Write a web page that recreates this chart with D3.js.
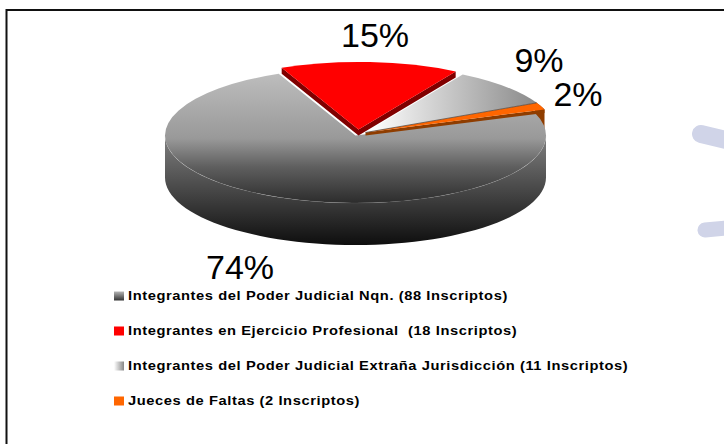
<!DOCTYPE html>
<html><head><meta charset="utf-8">
<script src="https://cdn.jsdelivr.net/npm/d3@7"></script>
<style>html,body{margin:0;padding:0;background:#fff}svg{display:block}</style>
</head><body><svg id="c" width="724" height="444"></svg>
<script>
const categories=["Integrantes del Poder Judicial Nqn. (88 Inscriptos)","Integrantes en Ejercicio Profesional  (18 Inscriptos)","Integrantes del Poder Judicial Extraña Jurisdicción (11 Inscriptos)","Jueces de Faltas (2 Inscriptos)"];
const values=[88,18,11,2];
const percentLabels=["74%","15%","9%","2%"];
const cx=355.5,cy=135.5,rx=190.5,ry=67.5,depth=42;
const svg=d3.select("#c");
const defs=svg.append("defs");
function grad(id,x1,y1,x2,y2,stops){
  const g=defs.append("linearGradient").attr("id",id)
   .attr("x1",x1).attr("y1",y1).attr("x2",x2).attr("y2",y2);
  stops.forEach(s=>g.append("stop").attr("offset",s[0]).attr("stop-color",s[1]));
}
grad("gTop",0,0,0,1,[[0,"#bdbdbd"],[0.5,"#999"],[0.72,"#5f5f5f"],[1,"#2c2c2c"]]);
grad("gWall",0,0,0,1,[[0,"#808080"],[0.5,"#474747"],[1,"#0e0e0e"]]);
grad("gWhite",0.02,0,1,0,[[0,"#ffffff"],[1,"#8a8a8a"]]);
grad("lGray",0,0,0,1,[[0,"#b5b5b5"],[1,"#333"]]);
grad("lWhite",0,0,1,0,[[0,"#fff"],[1,"#888"]]);

const TAU=2*Math.PI, deg=Math.PI/180;
const pie=d3.pie().sort(null).startAngle(70*deg).endAngle(70*deg+TAU)(values);
const arc=d3.arc().innerRadius(0).outerRadius(rx);
const x=a=>rx*Math.sin(a), y=a=>-ry*Math.cos(a);
const line=d3.line();
const off=[[0,0],[3,-6],[10,-3],[10,-3]];
const topFill=["url(#gTop)","#ff0000","url(#gWhite)","#ff6600"];

function wall(a0,a1,ox,oy,dp,fill){
  const n=60, pts=d3.range(n+1).map(i=>{const a=a0+(a1-a0)*i/n;return [cx+ox+x(a),cy+oy+y(a)];});
  const low=pts.map(p=>[p[0],p[1]+dp]).reverse();
  svg.append("path").attr("d",line(pts.concat(low))+"Z").attr("fill",fill);
}
function face(i){
  svg.append("path").attr("d",arc(pie[i]))
    .attr("transform",`translate(${cx+off[i][0]},${cy+off[i][1]}) scale(1,${ry/rx})`)
    .attr("fill",topFill[i]);
}
// outer walls
wall(Math.PI/2,Math.PI*1.5,0,0,depth,"url(#gWall)");
wall(pie[3].startAngle-0.02,pie[3].endAngle,off[3][0],off[3][1],24,"#8f3d00");
// main top face and rim
face(0);
svg.append("path").attr("d",line(d3.range(61).map(i=>{const a=Math.PI/2+Math.PI*i/60;return [cx+x(a),cy+y(a)];})))
  .attr("fill","none").attr("stroke","#b8b8b8").attr("stroke-opacity",0.14).attr("stroke-width",0.8);
// white slice
face(2);
// radial side of the orange slice
const O=off[3], oa=pie[3].endAngle, apexO=[cx+O[0],cy+O[1]], edgeO=[apexO[0]+x(oa),apexO[1]+y(oa)];
svg.append("path").attr("d",line([apexO,edgeO,[edgeO[0],edgeO[1]+3.5],[apexO[0],apexO[1]+3]])+"Z").attr("fill","#8f3d00");
face(3);
// seam between white and orange
const sa=pie[3].startAngle;
svg.append("path").attr("d",line([apexO,[apexO[0]+x(sa),apexO[1]+y(sa)]])).attr("stroke","#444").attr("stroke-width",0.7).attr("fill","none");
// red slice radial wall, then face
const R=off[1], a0=pie[1].startAngle, a1=pie[1].endAngle, ra=[cx+R[0],cy+R[1]];
const rl=[ra[0]+x(a0),ra[1]+y(a0)], rr=[ra[0]+x(a1),ra[1]+y(a1)], d=6;
svg.append("path").attr("d",line([rl,ra,rr,[rr[0],rr[1]+d],[ra[0],ra[1]+d],[rl[0],rl[1]+d]])+"Z").attr("fill","#800000");
face(1);

// percent labels
const lab=[[240,279],[375,47],[539,72],[578,106]];
svg.selectAll("text.p").data(percentLabels).join("text").attr("class","p")
 .attr("x",(d,i)=>lab[i][0]).attr("y",(d,i)=>lab[i][1]).attr("text-anchor","middle")
 .attr("font-family","Liberation Sans").attr("font-size",34).attr("fill","#000").text(d=>d);
// legend
const lf=["url(#lGray)","#ff0000","url(#lWhite)","#ff6600"];
const ly=d3.scalePoint().domain(categories).range([296,401]);
const g=svg.selectAll("g.l").data(categories).join("g").attr("class","l").attr("transform",d=>`translate(0,${ly(d)})`);
g.append("rect").attr("x",114).attr("y",-4.5).attr("width",10).attr("height",9).attr("fill",(d,i)=>lf[i]);
g.append("text").attr("transform","translate(128,4) scale(1.13,1)").attr("font-family","Liberation Sans").attr("font-weight","bold")
 .attr("font-size",13).attr("letter-spacing",0.52).style("white-space","pre").attr("fill","#000").text(d=>d);
// decoration at right edge
svg.append("path").attr("d","M701 134 L726 140").attr("stroke","#d0d4e8").attr("stroke-width",18).attr("stroke-linecap","round");
svg.append("path").attr("d","M705 230 L726 228").attr("stroke","#d0d4e8").attr("stroke-width",15).attr("stroke-linecap","round");
// frame
svg.append("rect").attr("x",6.5).attr("y",10).attr("width",760).attr("height",460).attr("fill","none").attr("stroke","#111").attr("stroke-width",2);
</script></body></html>
